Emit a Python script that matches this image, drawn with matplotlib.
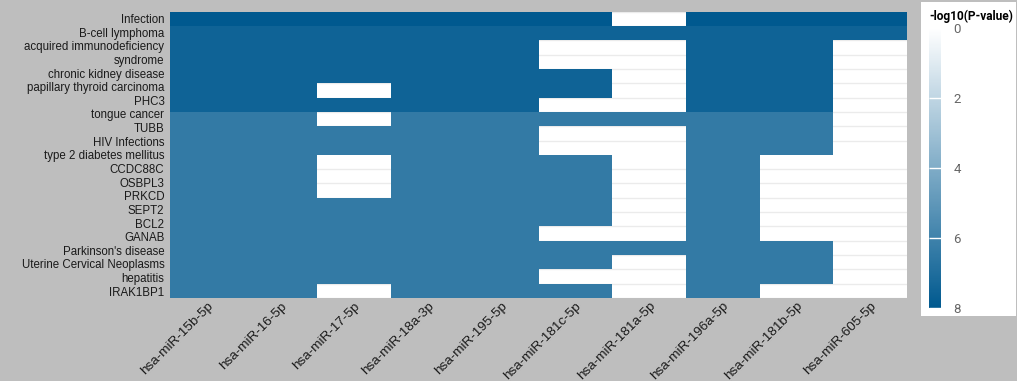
import numpy as np
import matplotlib
matplotlib.use("Agg")
import matplotlib.pyplot as plt
from matplotlib.colors import LinearSegmentedColormap

# etiquetas del eje y (tal como aparecen, 21 líneas) y columnas
row_labels = ["Infection", "B-cell lymphoma", "acquired immunodeficiency", "syndrome",
              "chronic kidney disease", "papillary thyroid carcinoma", "PHC3",
              "tongue cancer", "TUBB", "HIV Infections", "type 2 diabetes mellitus",
              "CCDC88C", "OSBPL3", "PRKCD", "SEPT2", "BCL2", "GANAB",
              "Parkinson's disease", "Uterine Cervical Neoplasms", "hepatitis", "IRAK1BP1"]
mirnas = ["hsa-miR-15b-5p", "hsa-miR-16-5p", "hsa-miR-17-5p", "hsa-miR-18a-3p",
          "hsa-miR-195-5p", "hsa-miR-181c-5p", "hsa-miR-181a-5p", "hsa-miR-196a-5p",
          "hsa-miR-181b-5p", "hsa-miR-605-5p"]

n = np.nan
# -log10(P-value) por fila (20 filas de celdas) y miRNA; nan = sin asociación
values = [
    [8.0, 8.0, 8.0, 8.0, 8.0, 8.0, n,   8.0, 8.0, 8.0],
    [7.5, 7.5, 7.5, 7.5, 7.5, 7.5, 7.5, 7.5, 7.5, 7.5],
    [7.5, 7.5, 7.5, 7.5, 7.5, n,   n,   7.5, 7.5, n],
    [7.5, 7.5, 7.5, 7.5, 7.5, n,   n,   7.5, 7.5, n],
    [7.5, 7.5, 7.5, 7.5, 7.5, 7.5, n,   7.5, 7.5, n],
    [7.5, 7.5, n,   7.5, 7.5, 7.5, n,   7.5, 7.5, n],
    [7.5, 7.5, 7.5, 7.5, 7.5, n,   n,   7.5, 7.5, n],
    [6.4, 6.4, n,   6.4, 6.4, 6.4, 6.4, 6.4, 6.4, n],
    [6.4, 6.4, 6.4, 6.4, 6.4, n,   n,   6.4, 6.4, n],
    [6.4, 6.4, 6.4, 6.4, 6.4, n,   n,   6.4, 6.4, n],
    [6.4, 6.4, n,   6.4, 6.4, 6.4, n,   6.4, n,   n],
    [6.4, 6.4, n,   6.4, 6.4, 6.4, n,   6.4, n,   n],
    [6.4, 6.4, n,   6.4, 6.4, 6.4, n,   6.4, n,   n],
    [6.4, 6.4, 6.4, 6.4, 6.4, 6.4, n,   6.4, n,   n],
    [6.4, 6.4, 6.4, 6.4, 6.4, 6.4, n,   6.4, n,   n],
    [6.4, 6.4, 6.4, 6.4, 6.4, n,   n,   6.4, n,   n],
    [6.4, 6.4, 6.4, 6.4, 6.4, 6.4, 6.4, 6.4, 6.4, n],
    [6.4, 6.4, 6.4, 6.4, 6.4, 6.4, n,   6.4, 6.4, n],
    [6.4, 6.4, 6.4, 6.4, 6.4, n,   n,   6.4, 6.4, n],
    [6.4, 6.4, n,   6.4, 6.4, 6.4, n,   6.4, n,   n],
]
cbar_ticks = [0, 2, 4, 6, 8]

data = np.ma.masked_invalid(np.array(values, dtype=float))
n_rows, n_cols = data.shape

plt.rcParams["font.family"] = ["Liberation Sans", "DejaVu Sans"]
cmap = LinearSegmentedColormap.from_list("blues", ["#FFFFFF", "#00598F"])

fig = plt.figure(figsize=(10.17, 3.81), dpi=100, facecolor="#BEBEBE")
ax = fig.add_axes([0.1672, 0.2178, 0.7246, 0.7515])
ax.set_facecolor("white")

# líneas horizontales del panel (solo se ven en las celdas vacías)
ax.set_yticks(np.arange(0, n_rows + 1), minor=True)
ax.grid(True, which="minor", axis="y", color="#EBEBEB", lw=1.0)
ax.set_axisbelow(True)

mesh = ax.pcolormesh(np.arange(n_cols + 1), np.arange(n_rows + 1), data,
                     cmap=cmap, vmin=0, vmax=8, zorder=2)
ax.set_xlim(0, n_cols)
ax.set_ylim(n_rows, 0)

# las 21 líneas de texto repartidas sobre las 20 filas, como en el original
ax.set_yticks((np.arange(len(row_labels)) + 0.5) * n_rows / len(row_labels))
ax.set_yticklabels(row_labels, fontsize=8.3, color="#1A1A1A")
ax.set_xticks(np.arange(n_cols) + 0.5)
ax.set_xticklabels(mirnas, rotation=45, ha="right", va="top",
                   rotation_mode="anchor", fontsize=9.7, color="#1A1A1A")
ax.tick_params(axis="both", which="both", length=0)
ax.tick_params(axis="y", pad=4)
ax.tick_params(axis="x", pad=1.5)
for s in ax.spines.values():
    s.set_visible(False)

# caja de la leyenda
box = fig.add_axes([0.9056, 0.1706, 0.0934, 0.824])
box.set_facecolor("white")
box.set_xticks([])
box.set_yticks([])
for s in box.spines.values():
    s.set_visible(False)

cax = fig.add_axes([0.9135, 0.1916, 0.0118, 0.735])
cb = fig.colorbar(mesh, cax=cax, ticks=cbar_ticks)
cb.outline.set_visible(False)
cax.invert_yaxis()
cax.tick_params(direction="in", length=8.6, width=1, color="white",
                labelcolor="#666666", labelsize=9.5, pad=9)
for t in cax.get_yticklabels():
    t.set_fontfamily("Roboto")
fig.text(0.9135, 0.958, "-log10(P-value)", fontsize=8.6, fontweight="bold",
         family="Roboto", color="black", va="center", ha="left")

plt.savefig("out.png", dpi=100, facecolor=fig.get_facecolor())
